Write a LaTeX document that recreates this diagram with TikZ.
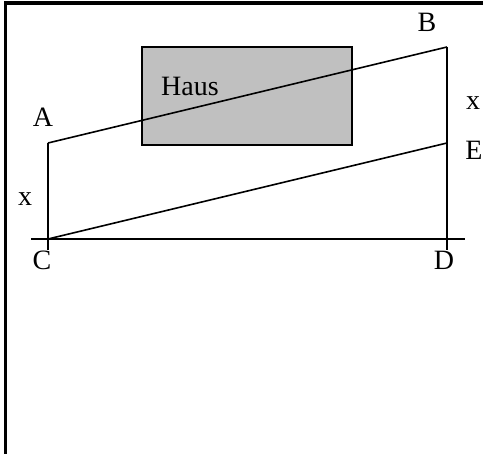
\documentclass[tikz,border=0pt]{standalone}
\usepackage{fontspec}
\setmainfont{Liberation Serif}
\usepackage{xcolor}
\usepackage{tikz}
\usetikzlibrary{positioning}
\usetikzlibrary{calc}

\definecolor{hausgray}{HTML}{C0C0C0}

\begin{document}
\begin{tikzpicture}[x=1pt, y=-1pt, font=\fontsize{28}{30}\selectfont,
		thinline/.style={line width=1.6pt, black},
		label/.style={inner sep=0pt, text=black}]
		\useasboundingbox (0,0) rectangle (483,454);

		% Frame (top and left)
		\draw[line width=3.2pt, black] (5.5,454) -- (5.5,3) -- (483,3);

		% House
		\draw[thinline, fill=hausgray] (142,47) rectangle (352,145);
		\node[label, anchor=base west] (haus) at (161,96) {Haus};

		% Points
		\coordinate (A) at (48,143);
		\coordinate (B) at (447,47);
		\coordinate (C) at (48,239);
		\coordinate (D) at (447,239);
		\coordinate (E) at (447,143);
		\coordinate (Cl) at (31,239);
		\coordinate (Dr) at (465,239);
		\coordinate (Cb) at (48,250);
		\coordinate (Db) at (447,250);

		% Ground line and verticals
		\draw[thinline] (Cl) -- (Dr);
		\draw[thinline] (A) -- (Cb);
		\draw[thinline] (B) -- (Db);

		% Slanted lines
		\draw[thinline] (A) -- (B);
		\draw[thinline] (C) -- (E);

		% Label points
		\node[label] (labA) at (43,117) {A};
		\node[label] (labB) at (427,22) {B};
		\node[label] (labC) at (42,260) {C};
		\node[label] (labD) at (444,260) {D};
		\node[label] (labE) at (474,150) {E};
		\node[label, anchor=base] (labxl) at (25,206) {x};
		\node[label, anchor=base] (labxr) at (473,110) {x};
	\end{tikzpicture}
\end{document}
